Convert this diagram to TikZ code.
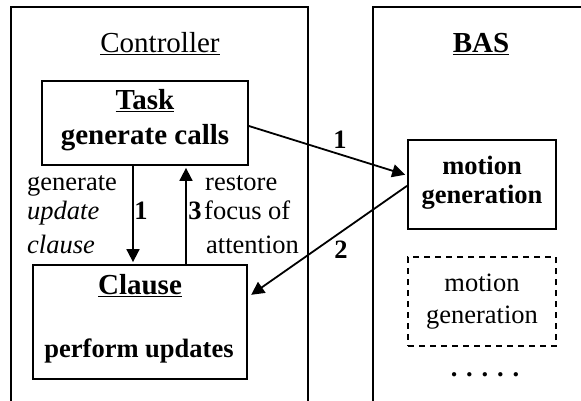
\documentclass[tikz,border=0pt]{standalone}
\usepackage{fontspec}
\setmainfont{Liberation Serif}
\usetikzlibrary{arrows.meta}
\begin{document}
\begin{tikzpicture}[x=1pt,y=-1pt,
  frame/.style={line width=1.8pt},
  box/.style={draw,line width=1.8pt,inner sep=0pt},
  dashbox/.style={box,dash pattern=on 6pt off 5pt},
  big/.style={font=\fontsize{29}{34}\selectfont,inner sep=0pt},
  norm/.style={font=\fontsize{26.5}{32}\selectfont,inner sep=0pt},
  arr/.style={line width=1.8pt,-{Triangle[length=13pt,width=13pt]},shorten >=2pt}]
\useasboundingbox (0,0) rectangle (581,401);

% the two open-bottomed frames
\draw[frame] (11,402) -- (11,7) -- (308,7) -- (308,402);
\draw[frame] (373,402) -- (373,7) -- (582,7);
\node[big,anchor=base] (ctitle) at (160,53) {\underline{Controller}};
\node[big,anchor=base] (btitle) at (481,53) {\textbf{\underline{BAS}}};

% boxes
\node[box,minimum width=206pt,minimum height=84pt] (task) at (145,123) {};
\node[box,minimum width=214pt,minimum height=114pt] (clause) at (140,322) {};
\node[box,minimum width=148pt,minimum height=89pt] (mg) at (482,184.5) {};
\node[dashbox,minimum width=148pt,minimum height=89pt] (mgd) at (482,301.5) {};

% box texts
\node[big,anchor=base] (tname) at (145,110) {\textbf{\underline{Task}}};
\node[big,anchor=base] (tdesc) at (145,145) {\textbf{generate calls}};
\node[big,anchor=base] (cname) at (140,294) {\textbf{\underline{Clause}}};
\node[norm,anchor=base] (cdesc) at (139,357) {\textbf{perform updates}};
\node[norm,anchor=base] (mga) at (482,175) {\textbf{motion}};
\node[norm,anchor=base] (mgb) at (482,204) {\textbf{generation}};
\node[norm,anchor=base] (mgda) at (482,291) {motion};
\node[norm,anchor=base] (mgdb) at (482,323) {generation};
\node[norm,anchor=base] (dots) at (485,376) {\textbf{. . . . .}};

% labels beside the vertical arrows
\node[norm,anchor=base west] (la) at (27,190) {generate};
\node[norm,anchor=base west] (lb) at (27,219) {\textit{update}};
\node[norm,anchor=base west] (lc) at (27,253) {\textit{clause}};
\node[norm,anchor=base west] (ra) at (205,190) {restore};
\node[norm,anchor=base west] (rb) at (204,219) {focus of};
\node[norm,anchor=base west] (rc) at (206,253) {attention};
\node[norm,anchor=base] (n1) at (141,219) {\textbf{1}};
\node[norm,anchor=base] (n3) at (195,219) {\textbf{3}};
\node[norm,anchor=base] (m1) at (340,149) {\textbf{1}};
\node[norm,anchor=base] (m2) at (341,258) {\textbf{2}};

% connectors
\coordinate (down) at (133,0);
\coordinate (up) at (186,0);
\draw[arr] (task.south -| down) -- (clause.north -| down);
\draw[arr] (clause.north -| up) -- (task.south -| up);
\draw[arr] (task.east) ++(0,3) -- (mg.173);
\draw[arr,shorten >=4pt] (mg.181) -- (clause.13);
\end{tikzpicture}
\end{document}
